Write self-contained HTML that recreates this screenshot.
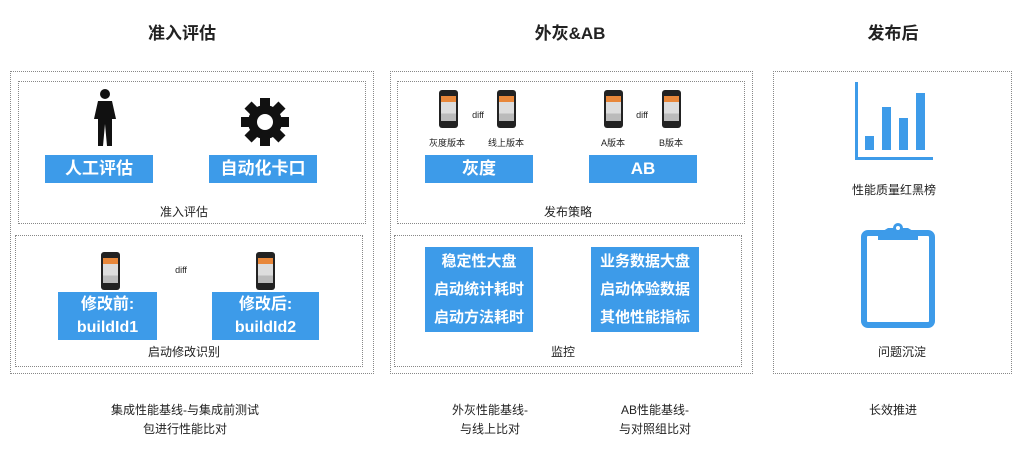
<!DOCTYPE html>
<html><head><meta charset="utf-8"><style>
body{margin:0;width:1024px;height:452px;background:#fff;position:relative;overflow:hidden;font-family:"Liberation Sans","Noto Sans CJK SC",sans-serif;color:#222}
.a{position:absolute}
.box{position:absolute;border:1px dotted #888;box-sizing:border-box}
.btn{position:absolute;background:#3d9be9;color:#fff;text-align:center;box-sizing:border-box;font-weight:bold}
.t{position:absolute;transform:translateX(-50%);white-space:nowrap;text-align:center}
.ph{position:absolute;width:19px;height:38px;background:#222;border-radius:3px}
.ph:after{content:"";position:absolute;left:2px;top:6px;width:15px;height:25px;background:linear-gradient(#e8873a 0 25%,#ddd 25% 70%,#bbb 70%)}
.s{font-size:9px}
</style></head><body>
<div class="t" style="left:182px;top:19px;font-size:17px;font-weight:bold">准入评估</div>
<div class="t" style="left:570px;top:19px;font-size:17px;font-weight:bold">外灰&amp;AB</div>
<div class="t" style="left:893px;top:19px;font-size:17px;font-weight:bold">发布后</div>

<div class="box" style="left:10px;top:71px;width:364px;height:303px"></div>
<div class="box" style="left:18px;top:81px;width:348px;height:143px"></div>
<div class="box" style="left:15px;top:235px;width:348px;height:132px"></div>
<svg class="a" style="left:90px;top:88px" width="30" height="58" viewBox="0 0 30 58"><circle cx="15" cy="6" r="5" fill="#111"/><path d="M8 13h14l4 18-4 0v27h-5l-2-22-2 22h-5V31H4z" fill="#111"/></svg>
<svg class="a" style="left:240px;top:97px" width="50" height="50" viewBox="-25 -25 50 50"><g fill="#111"><circle r="17"/><g id="g"><rect x="-5" y="-24" width="10" height="48"/></g><use href="#g" transform="rotate(45)"/><use href="#g" transform="rotate(90)"/><use href="#g" transform="rotate(135)"/></g><circle r="8" fill="#fff"/></svg>
<div class="btn" style="left:45px;top:155px;width:108px;height:28px;font-size:17px;line-height:28px">人工评估</div>
<div class="btn" style="left:209px;top:155px;width:108px;height:28px;font-size:17px;line-height:28px">自动化卡口</div>
<div class="t" style="left:184px;top:203px;font-size:12px">准入评估</div>
<div class="ph" style="left:101px;top:252px"></div>
<div class="ph" style="left:256px;top:252px"></div>
<div class="t s" style="left:181px;top:265px">diff</div>
<div class="btn" style="left:58px;top:292px;width:99px;height:48px;font-size:16px;line-height:23px;padding-top:1px">修改前:<br>buildId1</div>
<div class="btn" style="left:212px;top:292px;width:107px;height:48px;font-size:16px;line-height:23px;padding-top:1px">修改后:<br>buildId2</div>
<div class="t" style="left:184px;top:343px;font-size:12px">启动修改识别</div>

<div class="box" style="left:390px;top:71px;width:363px;height:303px"></div>
<div class="box" style="left:397px;top:81px;width:348px;height:143px"></div>
<div class="box" style="left:394px;top:235px;width:348px;height:132px"></div>
<div class="ph" style="left:439px;top:90px"></div>
<div class="ph" style="left:497px;top:90px"></div>
<div class="ph" style="left:604px;top:90px"></div>
<div class="ph" style="left:662px;top:90px"></div>
<div class="t s" style="left:478px;top:110px">diff</div>
<div class="t s" style="left:642px;top:110px">diff</div>
<div class="t s" style="left:447px;top:136px">灰度版本</div>
<div class="t s" style="left:506px;top:136px">线上版本</div>
<div class="t s" style="left:613px;top:136px">A版本</div>
<div class="t s" style="left:671px;top:136px">B版本</div>
<div class="btn" style="left:425px;top:155px;width:108px;height:28px;font-size:17px;line-height:28px">灰度</div>
<div class="btn" style="left:589px;top:155px;width:108px;height:28px;font-size:17px;line-height:28px">AB</div>
<div class="t" style="left:568px;top:203px;font-size:12px">发布策略</div>
<div class="btn" style="left:425px;top:247px;width:108px;height:85px;font-size:15px;line-height:28px;padding-top:1px">稳定性大盘<br>启动统计耗时<br>启动方法耗时</div>
<div class="btn" style="left:591px;top:247px;width:108px;height:85px;font-size:15px;line-height:28px;padding-top:1px">业务数据大盘<br>启动体验数据<br>其他性能指标</div>
<div class="t" style="left:563px;top:343px;font-size:12px">监控</div>

<div class="box" style="left:773px;top:71px;width:239px;height:303px"></div>
<svg class="a" style="left:850px;top:78px" width="90" height="86"><g fill="#3d9be9"><rect x="5" y="4" width="3" height="78"/><rect x="5" y="79" width="78" height="3"/><rect x="15" y="58" width="9" height="14"/><rect x="32" y="29" width="9" height="43"/><rect x="49" y="40" width="9" height="32"/><rect x="66" y="15" width="9" height="57"/></g></svg>
<div class="t" style="left:894px;top:181px;font-size:12px">性能质量红黑榜</div>
<svg class="a" style="left:858px;top:222px" width="80" height="108"><rect x="6" y="11" width="68" height="92" rx="4" fill="none" stroke="#3d9be9" stroke-width="6"/><path d="M20 12 L30 6 H50 L60 12 V18 H20Z" fill="#3d9be9"/><circle cx="40" cy="6" r="5" fill="#3d9be9"/><circle cx="40" cy="6" r="2" fill="#fff"/></svg>
<div class="t" style="left:902px;top:343px;font-size:12px">问题沉淀</div>

<div class="t" style="left:185px;top:401px;font-size:12px;line-height:19px">集成性能基线-与集成前测试<br>包进行性能比对</div>
<div class="t" style="left:490px;top:401px;font-size:12px;line-height:19px">外灰性能基线-<br>与线上比对</div>
<div class="t" style="left:655px;top:401px;font-size:12px;line-height:19px">AB性能基线-<br>与对照组比对</div>
<div class="t" style="left:893px;top:401px;font-size:12px">长效推进</div>
</body></html>
